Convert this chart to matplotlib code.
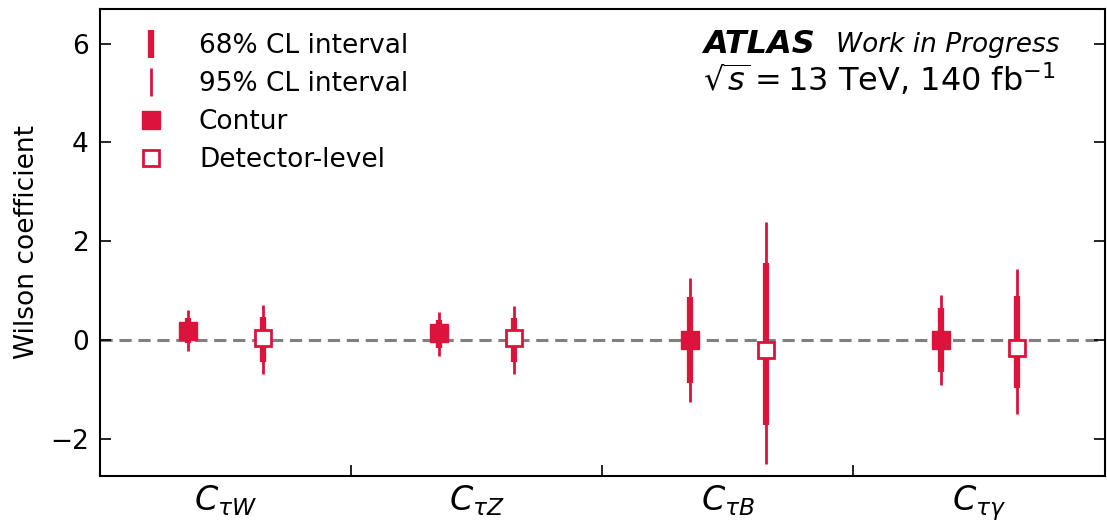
import numpy as np
import matplotlib
matplotlib.use("Agg")
import matplotlib.pyplot as plt
from matplotlib.lines import Line2D

# Wilson coefficients, values
labels = [r"$C_{\tau W}$", r"$C_{\tau Z}$", r"$C_{\tau B}$", r"$C_{\tau\gamma}$"]

contur_central = [0.18, 0.14, 0.0, 0.0]
contur_68_lo = [-0.06, -0.16, -0.87, -0.64]
contur_68_hi = [0.44, 0.40, 0.87, 0.64]
contur_95_lo = [-0.22, -0.32, -1.25, -0.91]
contur_95_hi = [0.60, 0.57, 1.25, 0.91]

det_central = [0.04, 0.04, -0.20, -0.16]
det_68_lo = [-0.45, -0.44, -1.72, -0.97]
det_68_hi = [0.46, 0.44, 1.56, 0.89]
det_95_lo = [-0.69, -0.69, -2.50, -1.50]
det_95_hi = [0.70, 0.69, 2.38, 1.43]

red = "#DC143C"
offset = 0.15

fig = plt.figure(figsize=(11.07, 5.25), dpi=100)
ax = fig.add_axes([0.0903, 0.0933, 0.9075, 0.8897])

x = np.arange(len(labels))
xc = x - offset
xd = x + offset

ax.axhline(0, color="grey", ls=(0, (4, 2.2)), lw=2.2, zorder=1)

ax.vlines(xc, contur_95_lo, contur_95_hi, color=red, lw=2, zorder=2)
ax.vlines(xc, contur_68_lo, contur_68_hi, color=red, lw=4.5, zorder=2)
ax.vlines(xd, det_95_lo, det_95_hi, color=red, lw=2, zorder=2)
ax.vlines(xd, det_68_lo, det_68_hi, color=red, lw=4.5, zorder=2)

ax.plot(xc, contur_central, ls="none", marker="s", ms=13, color=red, zorder=3)
ax.plot(xd, det_central, ls="none", marker="s", ms=12, mfc="white", mec=red,
        mew=2, zorder=3)

ax.set_xlim(-0.5, 3.5)
ax.set_ylim(-2.75, 6.7)

# separators between categories, labels at centres
ax.set_xticks([0.5, 1.5, 2.5])
ax.set_xticklabels([])
ax.set_xticks(x, minor=True)
ax.set_xticklabels(labels, minor=True, fontsize=24)
ax.tick_params(axis="x", which="major", direction="in", length=8, width=1.2)
ax.tick_params(axis="x", which="minor", length=0, pad=5)
ax.set_yticks([-2, 0, 2, 4, 6])
ax.tick_params(axis="y", direction="in", length=8, width=1.2, right=True,
               labelsize=19, pad=8)
ax.set_ylabel("Wilson coefficient", fontsize=19)
ax.yaxis.set_label_coords(-0.06, 0.5)
for sp in ax.spines.values():
    sp.set_linewidth(1.5)

handles = [
    Line2D([], [], ls="none", marker="|", ms=20, mew=4.5, color=red),
    Line2D([], [], ls="none", marker="|", ms=20, mew=2, color=red),
    Line2D([], [], ls="none", marker="s", ms=13, color=red),
    Line2D([], [], ls="none", marker="s", ms=12, mfc="white", mec=red, mew=2),
]
names = ["68% CL interval", "95% CL interval", "Contur", "Detector-level"]
ax.legend(handles, names, loc="upper left", frameon=False, fontsize=19,
          handlelength=2.2, handletextpad=0.7, labelspacing=0.45,
          borderaxespad=0.3, bbox_to_anchor=(0.004, 0.987))

ax.text(0.6, 0.923, "ATLAS", transform=ax.transAxes, fontsize=23,
        fontweight="bold", fontstyle="italic", va="center")
ax.text(0.733, 0.923, "Work in Progress", transform=ax.transAxes, fontsize=19,
        fontstyle="italic", va="center")
ax.text(0.6, 0.848, r"$\sqrt{s} = 13$ TeV, 140 fb$^{-1}$",
        transform=ax.transAxes, fontsize=23, va="center")

fig.savefig("out.png", dpi=100)
